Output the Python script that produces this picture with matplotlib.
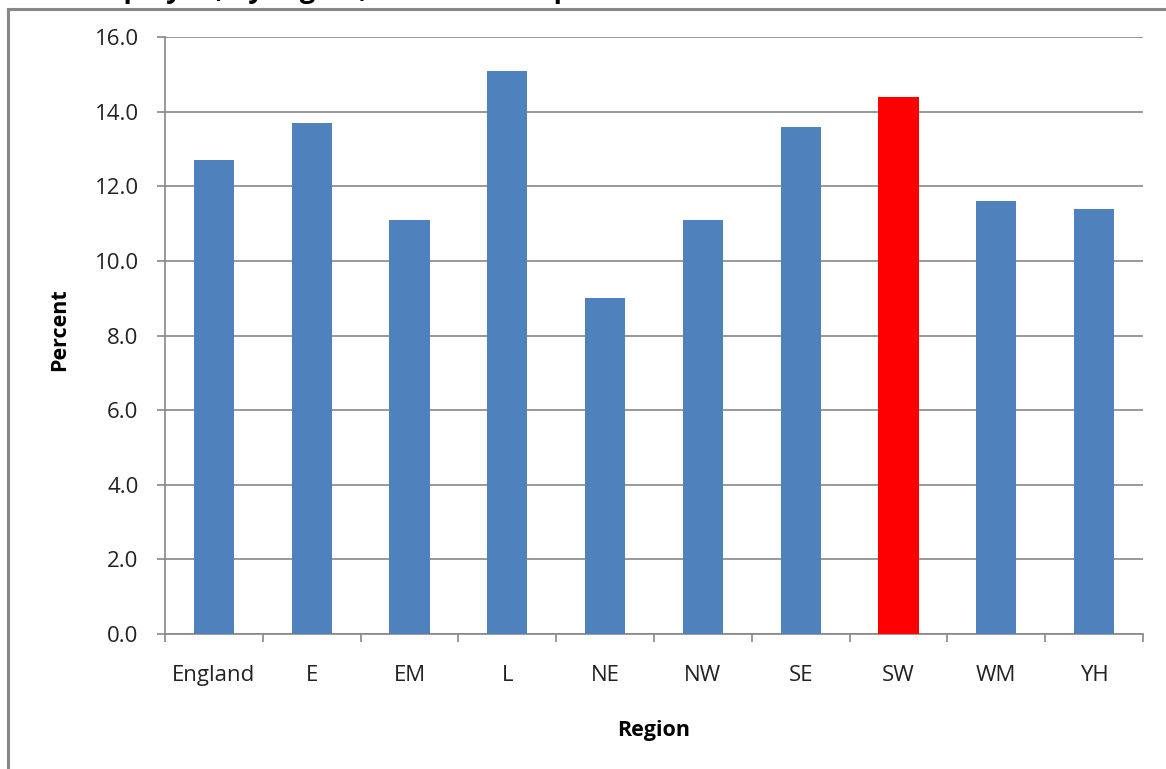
import numpy as np
import matplotlib.pyplot as plt
from matplotlib.lines import Line2D
from matplotlib.ticker import FixedLocator

# Data
regions = ["England", "E", "EM", "L", "NE", "NW", "SE", "SW", "WM", "YH"]
percent = [12.7, 13.7, 11.1, 15.1, 9.0, 11.1, 13.6, 14.4, 11.6, 11.4]
highlight = "SW"

blue = "#4F81BD"
red = "#FF0000"
grey = "#878787"

plt.rcParams['font.family'] = ['Open Sans', 'DejaVu Sans']

W, H = 1166, 769
fig = plt.figure(figsize=(W / 100, H / 100), dpi=100)
ax = fig.add_axes([165 / W, 1 - 634 / H, (1143 - 165) / W, (634 - 37) / H])

x = np.arange(len(regions))
colors = [red if r == highlight else blue for r in regions]
ax.bar(x, percent, width=0.41, color=colors, zorder=3)

ax.set_xlim(-0.5, len(regions) - 0.5)
ax.set_ylim(0, 16)
yt = np.arange(0, 16.1, 2)
ax.set_yticks(yt)
ax.set_yticklabels([f"{v:.1f}" for v in yt], fontsize=16, color="#222222")
ax.set_xticks(x)
ax.set_xticklabels(regions, fontsize=16, color="#222222")
ax.xaxis.set_minor_locator(FixedLocator(np.arange(-0.5, len(regions), 1)))

ax.tick_params(axis="x", which="major", length=0, pad=22)
ax.tick_params(axis="x", which="minor", length=6, width=1.2, color=grey, direction="out")
ax.tick_params(axis="y", length=6, width=1.2, color=grey, direction="out", pad=13)

ax.grid(axis="y", color=grey, linewidth=1.2, zorder=0)
for s in ["top", "right"]:
    ax.spines[s].set_visible(False)
for s in ["left", "bottom"]:
    ax.spines[s].set_color(grey)
    ax.spines[s].set_linewidth(1.2)

ax.set_ylabel("Percent", fontsize=15.5, fontweight="bold")
ax.yaxis.set_label_coords((70 - 165) / (1143 - 165), 0.51)
ax.set_xlabel("Region", fontsize=15.5, fontweight="bold")
ax.xaxis.set_label_coords(0.5, -(720 - 634) / (634 - 37))

# outer chart border (cropped on right and bottom)
bx, by = 7.5 / W, 1 - 8.5 / H
fig.add_artist(Line2D([bx, bx], [0, by], transform=fig.transFigure, color=grey, linewidth=2.2))
fig.add_artist(Line2D([bx, 1], [by, by], transform=fig.transFigure, color=grey, linewidth=2.2))

# title, cropped at the top of the image
fig.text(20 / W, 1 + 3 / H, "Self-employed, by region, 2011 data as percent",
         fontsize=20, fontweight="bold", ha="left", va="baseline")

fig.savefig("out.png", dpi=100, facecolor="white")
